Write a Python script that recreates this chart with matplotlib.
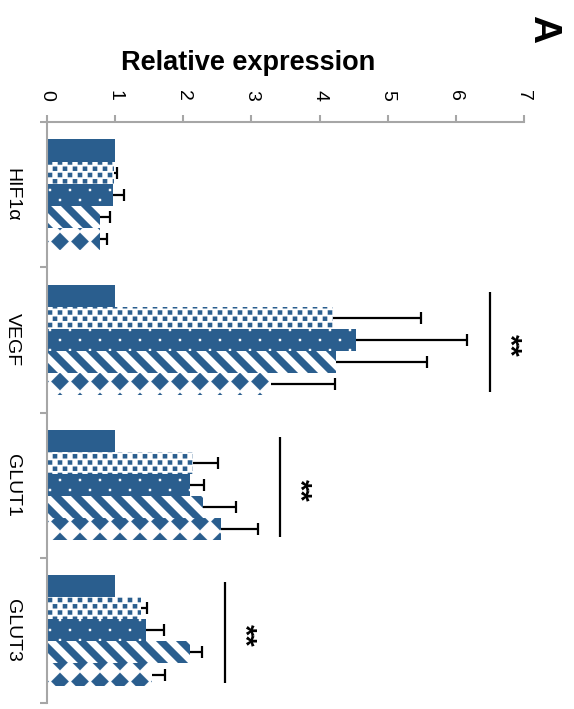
import warnings
import numpy as np
import matplotlib
matplotlib.use('Agg')
import matplotlib.pyplot as plt
import matplotlib.hatch as mhatch
from matplotlib.path import Path

# data
categories = ['HIF1α', 'VEGF', 'GLUT1', 'GLUT3']
control = [1.0, 1.0, 1.0, 1.0]
group2 = [0.98, 4.20, 2.14, 1.38]
group3 = [0.97, 4.53, 2.10, 1.45]
group4 = [0.78, 4.24, 2.29, 2.10]
group5 = [0.78, 3.29, 2.55, 1.54]
err2 = [0.05, 1.29, 0.37, 0.09]
err3 = [0.16, 1.64, 0.21, 0.27]
err4 = [0.15, 1.34, 0.48, 0.18]
err5 = [0.10, 0.94, 0.54, 0.19]
signif = ['', '**', '**', '**']
value_ticks = [0, 1, 2, 3, 4, 5, 6, 7]

BLUE = '#2A5E8E'
GREY = '#A6A6A6'

warnings.filterwarnings('ignore', message='hatch must consist')
plt.rcParams['font.family'] = ['Liberation Sans', 'DejaVu Sans']
plt.rcParams['hatch.linewidth'] = 0.1


# excel-like fill patterns as custom hatches (unit tile = 1 inch)
def square(h):
    return np.array([[-h, -h], [h, -h], [h, h], [-h, h], [-h, -h]])


def diamond(h):
    return np.array([[0, -h], [h, 0], [0, h], [-h, 0], [0, -h]])


def lattice(nx, ny, stagger, shape, dy=0.0):
    out = []
    for r in range(-1, ny + 2):
        off = 0.5 / nx if (stagger and r % 2) else 0.0
        for c in range(-1, nx + 1):
            out.append(shape + [c / nx + off, r / ny + dy])
    return out


class TileHatch(mhatch.HatchPatternBase):
    key = '#'

    def __init__(self, hatch, density):
        self.parts = self.shapes() if self.key in hatch else []
        self.num_vertices = sum(len(p) for p in self.parts)

    def set_vertices_and_codes(self, vertices, codes):
        i = 0
        for p in self.parts:
            n = len(p)
            vertices[i:i + n] = p
            codes[i:i + n] = [Path.MOVETO] + [Path.LINETO] * (n - 2) + [Path.CLOSEPOLY]
            i += n


class Squares(TileHatch):
    key = 'q'

    def shapes(self):
        return lattice(10, 16, True, square(0.022))


class Dots(TileHatch):
    key = 'd'

    def shapes(self):
        return lattice(5, 10, True, square(0.011))


class Diamonds(TileHatch):
    key = 'k'

    def shapes(self):
        return lattice(5, 5, False, diamond(0.088), dy=-0.015)


class Stripes(TileHatch):
    key = 'z'

    def shapes(self):
        w = 0.05
        out = []
        for k in range(-2, 13):
            c = k / 5
            out.append(np.array([[-0.2, c + 0.2 - w], [1.2, c - 1.2 - w],
                                 [1.2, c - 1.2 + w], [-0.2, c + 0.2 + w],
                                 [-0.2, c + 0.2 - w]]))
        return out


mhatch._hatch_types.extend([Squares, Dots, Diamonds, Stripes])

series = [control, group2, group3, group4, group5]
errors = [None, err2, err3, err4, err5]
faces = [BLUE, 'white', BLUE, 'white', 'white']
hatch_cols = [BLUE, BLUE, 'white', BLUE, BLUE]
hatches = [None, 'q', 'd', 'z', 'k']

fig = plt.figure(figsize=(5.74, 7.09), dpi=100)
ax = fig.add_axes([47 / 574, 6 / 709, 477 / 574, 581 / 709])

y = np.arange(len(categories))
bh = 0.152
for i, vals in enumerate(series):
    pos = y + (i - 2) * bh
    ax.barh(pos, vals, height=bh, color=faces[i], edgecolor=hatch_cols[i],
            linewidth=0, hatch=hatches[i], zorder=2)
    if errors[i] is not None:
        v = np.array(vals)
        e = np.array(errors[i])
        ax.errorbar(v, pos, xerr=[np.zeros_like(e), e], fmt='none',
                    ecolor='black', elinewidth=1.6, capsize=0, zorder=3)
        ax.plot(v + e, pos, ls='none', marker='|', markersize=9,
                mew=1.6, color='black', zorder=3)

# significance brackets
tops = np.max([np.array(s) + np.array(e) for s, e in zip(series[1:], errors[1:])], axis=0)
for i, lab in enumerate(signif):
    if not lab:
        continue
    xs = tops[i] + 0.33
    ax.vlines(xs, i - 0.33, i + 0.36, color='black', lw=1.6)
    ax.text(xs + 0.28, i + 0.035, lab, rotation=270, ha='center', va='center',
            fontsize=21, fontweight='bold')

ax.set_xlim(0, 7)
ax.set_ylim(3.5, -0.5)
ax.xaxis.tick_top()
ax.set_xticks(value_ticks)
ax.set_xticklabels([str(t) for t in value_ticks], rotation=270)
ax.tick_params(axis='x', direction='out', length=5, width=1.5, color=GREY,
               labelsize=14, pad=10)

ax.set_yticks(y)
ax.set_yticklabels(categories)
ax.set_yticks(np.arange(-0.5, 4, 1), minor=True)
ax.tick_params(axis='y', which='major', length=0, labelsize=14, pad=19)
ax.tick_params(axis='y', which='minor', direction='out', length=5, width=1.5,
               color=GREY)
plt.setp(ax.get_yticklabels(), rotation=270, va='center')

for side in ['right', 'bottom']:
    ax.spines[side].set_visible(False)
for side in ['top', 'left']:
    ax.spines[side].set_color(GREY)
    ax.spines[side].set_linewidth(1.5)

fig.text(248 / 574, 1 - 63 / 709, 'Relative expression', ha='center', va='center',
         fontsize=19.5, fontweight='bold')
fig.text(543 / 574, 1 - 29 / 709, 'A', ha='center', va='center', rotation=270,
         fontsize=28, fontweight='bold')

fig.savefig('out.png', dpi=100)
